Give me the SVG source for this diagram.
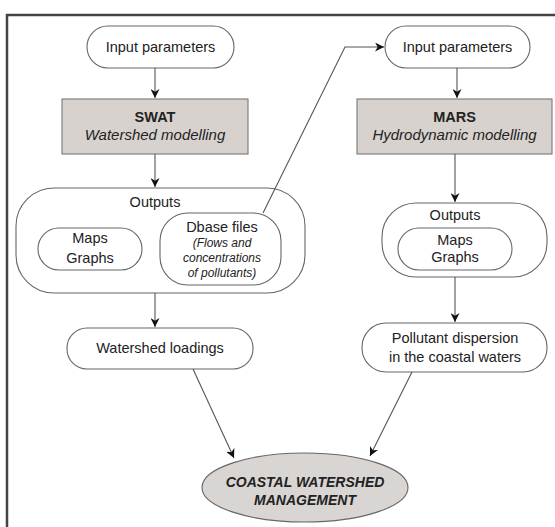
<svg xmlns="http://www.w3.org/2000/svg" width="555" height="527" viewBox="0 0 555 527">
<style>
text{font-family:"Liberation Sans",Arial,sans-serif;fill:#222;text-anchor:middle}
.t{font-size:14.5px}
.it{font-size:12px;font-style:italic}
.box{fill:#fff;stroke:#666;stroke-width:1.1}
.model{fill:#d8d2ce;stroke:#777;stroke-width:1.1}
.c{fill:none;stroke:#555;stroke-width:1.1}
</style>
<defs>
<marker id="ah" viewBox="0 0 10 10" refX="10" refY="5" markerWidth="9" markerHeight="9" markerUnits="userSpaceOnUse" orient="auto">
<path d="M0,0 L10,5 L0,10 L3,5 Z" fill="#111"/>
</marker>
</defs>
<rect width="555" height="527" fill="#fff"/>
<path d="M7,530 V15 H560" fill="none" stroke="#444" stroke-width="2.5"/>

<g id="input-left">
<rect class="box" x="87" y="26" width="147" height="42" rx="21"/>
<text class="t" x="160.5" y="52">Input parameters</text>
</g>
<g id="swat">
<rect class="model" x="62" y="99" width="186" height="55"/>
<text class="t" x="155" y="122" font-weight="bold">SWAT</text>
<text class="t" x="155" y="140" font-style="italic" style="font-size:15px">Watershed modelling</text>
</g>
<g id="outputs-left">
<rect class="box" x="16" y="188" width="289" height="105" rx="38"/>
<text class="t" x="155" y="207">Outputs</text>
</g>
<g id="maps-left">
<rect class="box" x="38" y="228" width="104" height="42" rx="21"/>
<text class="t" x="90" y="243">Maps</text>
<text class="t" x="90" y="263">Graphs</text>
</g>
<g id="dbase">
<rect class="box" x="160" y="213" width="121" height="72" rx="28"/>
<text class="t" x="222" y="232">Dbase files</text>
<text class="it" x="222" y="247">(Flows and</text>
<text class="it" x="222" y="262">concentrations</text>
<text class="it" x="222" y="277">of pollutants)</text>
</g>
<g id="input-right">
<rect class="box" x="385" y="26" width="145" height="42" rx="21"/>
<text class="t" x="457.5" y="52">Input parameters</text>
</g>
<g id="mars">
<rect class="model" x="357" y="99" width="195" height="55"/>
<text class="t" x="454.5" y="122" font-weight="bold">MARS</text>
<text class="t" x="454.5" y="140" font-style="italic" style="font-size:15px">Hydrodynamic modelling</text>
</g>
<g id="outputs-right">
<rect class="box" x="382" y="203" width="165" height="74" rx="34"/>
<text class="t" x="455" y="220">Outputs</text>
</g>
<g id="maps-right">
<rect class="box" x="398" y="228" width="114" height="42" rx="21"/>
<text class="t" x="455" y="245">Maps</text>
<text class="t" x="455" y="262">Graphs</text>
</g>
<g id="watershed-loadings">
<rect class="box" x="67" y="328" width="186" height="41" rx="20"/>
<text class="t" x="160" y="353">Watershed loadings</text>
</g>
<g id="pollutant-dispersion">
<rect class="box" x="362" y="323" width="185" height="49" rx="24"/>
<text class="t" x="455" y="343">Pollutant dispersion</text>
<text class="t" x="455" y="362">in the coastal waters</text>
</g>
<g id="coastal-management">
<ellipse cx="305" cy="487.5" rx="103" ry="34.5" fill="#d9d5d3" stroke="#666" stroke-width="1.1"/>
<text x="305" y="487" font-size="14px" font-weight="bold" font-style="italic">COASTAL WATERSHED</text>
<text x="305" y="505" font-size="14px" font-weight="bold" font-style="italic">MANAGEMENT</text>
</g>

<g id="connectors">
<path class="c" d="M155,68 V98" marker-end="url(#ah)"/>
<path class="c" d="M155,154 V187" marker-end="url(#ah)"/>
<path class="c" d="M263,213 L345,47 H384" marker-end="url(#ah)"/>
<path class="c" d="M457,68 V98" marker-end="url(#ah)"/>
<path class="c" d="M455,154 V202" marker-end="url(#ah)"/>
<path class="c" d="M155,293 V327" marker-end="url(#ah)"/>
<path class="c" d="M455,277 V322" marker-end="url(#ah)"/>
<path class="c" d="M193,369 L234,458" marker-end="url(#ah)"/>
<path class="c" d="M412,372 L370,456" marker-end="url(#ah)"/>
</g>
</svg>
